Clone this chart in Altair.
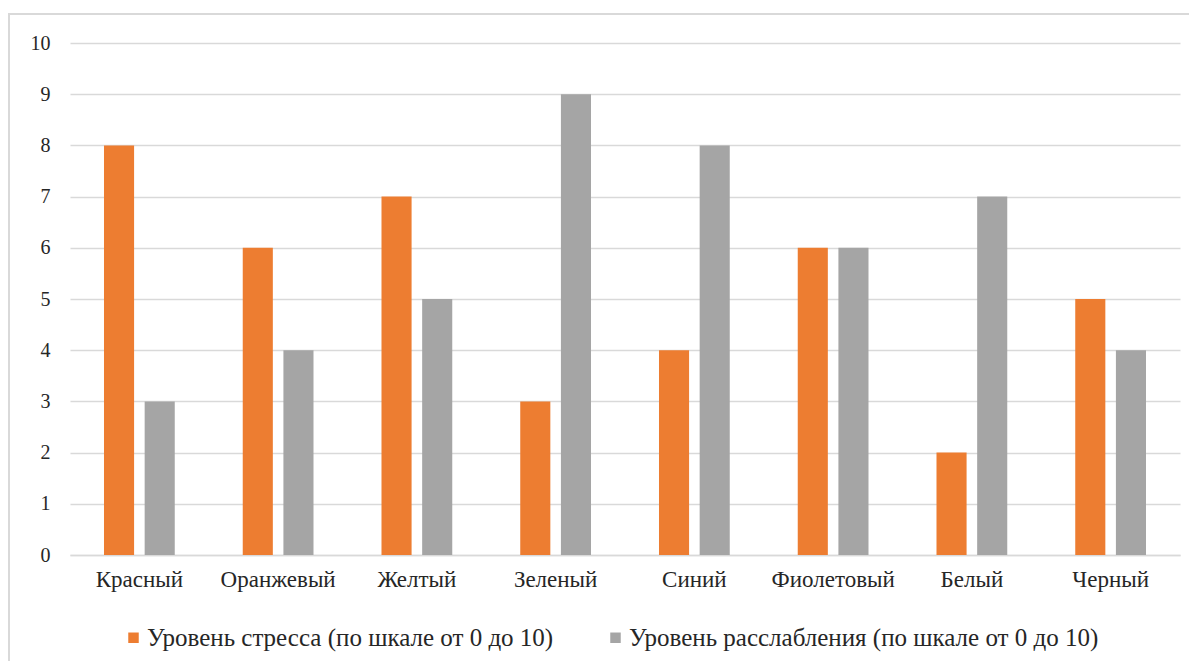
import altair as alt
import pandas as pd

categories = ["Красный", "Оранжевый", "Желтый", "Зеленый", "Синий", "Фиолетовый", "Белый", "Черный"]
stress = [8, 6, 7, 3, 4, 6, 2, 5]
relax = [3, 4, 5, 9, 8, 6, 7, 4]
series_names = ["Уровень стресса (по шкале от 0 до 10)", "Уровень расслабления (по шкале от 0 до 10)"]
colors = ["#ED7D31", "#A5A5A5"]

rows = []
for c, s, r in zip(categories, stress, relax):
    rows.append({"cat": c, "series": series_names[0], "value": s})
    rows.append({"cat": c, "series": series_names[1], "value": r})
df = pd.DataFrame(rows)

W, H = 1110, 512
FONT = "Liberation Serif, serif"
TXT = "#262626"

bars = alt.Chart(df).mark_bar().encode(
    x=alt.X("cat:N", sort=categories, title=None,
            scale=alt.Scale(paddingInner=0.49, paddingOuter=0.245),
            axis=alt.Axis(labelAngle=0, ticks=False, domain=True, domainColor="#d9d9d9",
                          domainWidth=1.5, labelPadding=13, labelFontSize=23,
                          labelColor=TXT, grid=False)),
    xOffset=alt.XOffset("series:N", sort=series_names,
                        scale=alt.Scale(paddingInner=0.26, paddingOuter=0)),
    y=alt.Y("value:Q", title=None,
            scale=alt.Scale(domain=[0, 10], nice=False),
            axis=alt.Axis(values=list(range(0, 11)), ticks=False, domain=False,
                          labelPadding=20, labelFontSize=20,
                          labelColor=TXT, gridColor="#d9d9d9", gridWidth=1.5)),
    color=alt.Color("series:N", sort=series_names,
                    scale=alt.Scale(domain=series_names, range=colors),
                    legend=alt.Legend(title=None, orient="none", direction="horizontal",
                                      legendX=51, legendY=582,
                                      symbolType="square", symbolSize=110,
                                      symbolStrokeWidth=0,
                                      labelFontSize=25, labelColor=TXT,
                                      labelOffset=1, columnPadding=49,
                                      labelLimit=700)),
)

frame = alt.Chart(pd.DataFrame({"a": [0]})).mark_rect(
    fill=None, stroke="#d9d9d9", strokeWidth=2
).encode(
    x=alt.value(-61), x2=alt.value(W + 40), y=alt.value(-29), y2=alt.value(H + 140)
)

chart = alt.layer(frame, bars).properties(
    width=W, height=H,
    autosize=alt.AutoSizeParams(type="none"),
    padding={"left": 62, "top": 35, "right": 9, "bottom": 106},
).configure(background="white", font=FONT).configure_view(stroke=None).configure_axis(
    labelFont=FONT).configure_legend(labelFont=FONT)

chart.save("out.html", embed_options={"renderer": "svg", "actions": False})
